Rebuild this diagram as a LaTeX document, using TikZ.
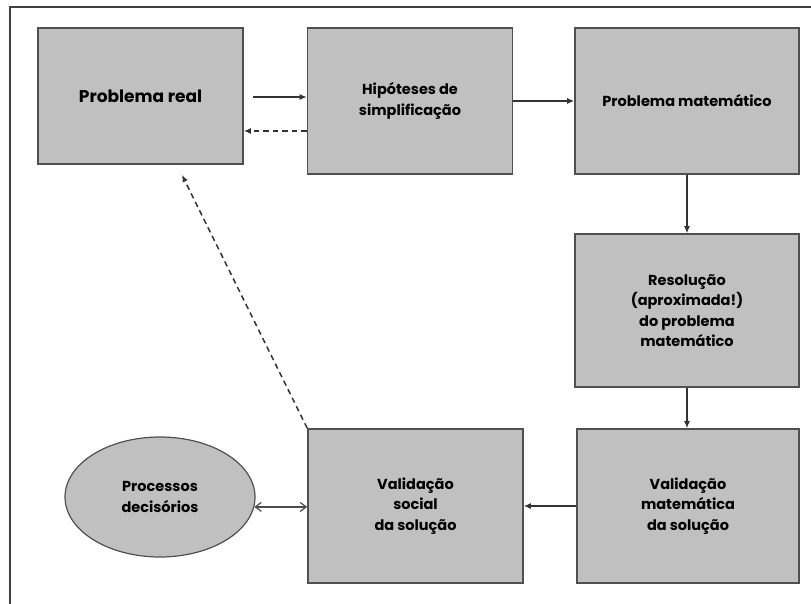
\documentclass[tikz,border=0pt]{standalone}
\usepackage{fontspec}
\setmainfont{Poppins}
\usetikzlibrary{arrows.meta,shapes.geometric,calc}
\definecolor{boxgray}{RGB}{192,192,192}
\definecolor{edgegray}{RGB}{80,80,80}
\begin{document}
\begin{tikzpicture}[x=1pt,y=-1pt,
  box/.style={draw=edgegray, line width=1.6pt, fill=boxgray, inner sep=0pt,
    align=center, font=\bfseries\fontsize{14.5}{20.5}\selectfont},
  arr/.style={-{Latex[length=7pt,width=6pt]}, line width=1.2pt, draw=black!80},
  darr/.style={{Straight Barb[length=6pt,width=9pt]}-{Straight Barb[length=6pt,width=9pt]}, line width=1.2pt, draw=black!70},
  dsh/.style={dash pattern=on 5.5pt off 4pt, line width=1.5pt}]
\useasboundingbox (0,0) rectangle (811,604);
\draw[line width=1.3pt, black!75] (10,604) -- (10,7) -- (811,7);

\node[box, minimum width=205pt, minimum height=136pt,
  font=\bfseries\fontsize{17}{20}\selectfont] (b1) at (140.5,96) {Problema real};
\node[box, minimum width=205pt, minimum height=146pt] (b2) at (410,101)
  {Hipóteses de\\simplificação};
\node[box, minimum width=224pt, minimum height=146pt] (b3) at (687,101)
  {Problema matemático};
\node[box, minimum width=224pt, minimum height=153pt] (b4) at (687,310.5)
  {Resolução\\(aproximada!)\\do problema\\matemático};
\node[box, minimum width=222pt, minimum height=154pt] (b6) at (688,506)
  {Validação\\matemática\\da solução};
\node[box, minimum width=215pt, minimum height=154pt] (b5) at (415.5,506)
  {Validação\\social\\da solução};
\node[box, ellipse, line width=1.2pt, minimum width=190pt, minimum height=120pt] (ell) at (160,497)
  {Processos\\decisórios};

\coordinate (s1) at (253,97);
\draw[arr] (s1) -- (s1 -| b2.west);
\coordinate (d2) at ($(b2.west)+(0,30)$);
\draw[arr,dsh] (d2) -- (d2 -| b1.east);
\draw[arr] (b2.east) -- (b2.east -| b3.west);
\draw[arr] (b3.south) -- (b4.north);
\draw[arr] (b4.south) -- (b4.south |- b6.north);
\draw[arr] (b6.west) -- (b6.west -| b5.east);
\draw[darr] (ell.-6) -- (ell.-6 -| b5.west);
\coordinate (tip) at (182,175);
\draw[arr,dsh] (b5.north west) -- (tip);
\end{tikzpicture}
\end{document}
